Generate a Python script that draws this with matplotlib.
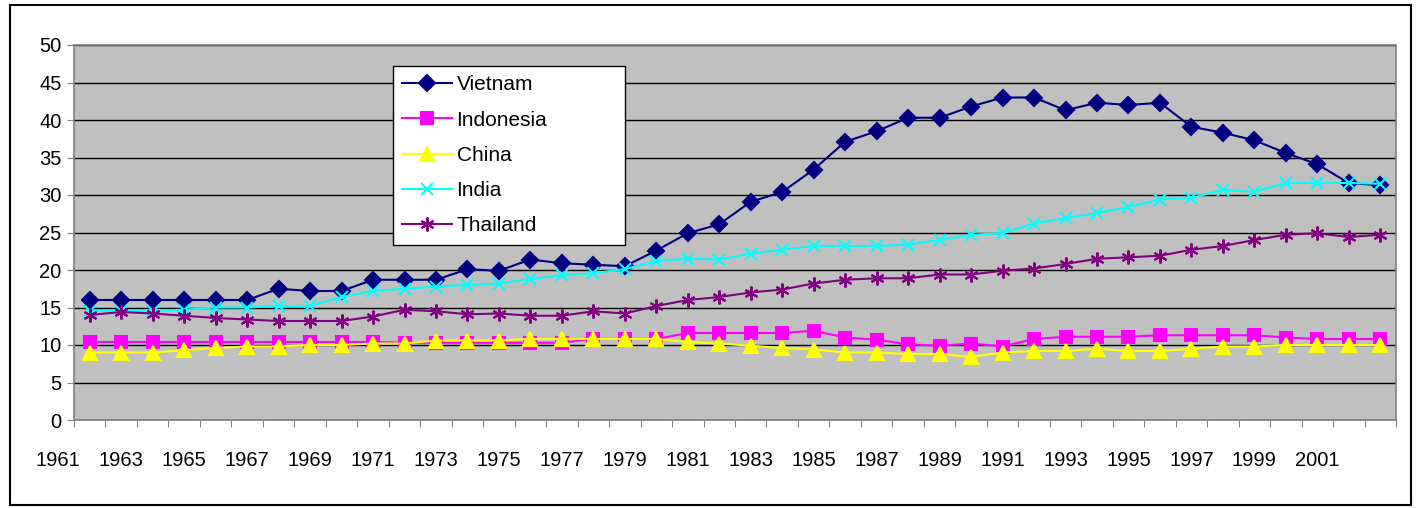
import matplotlib.pyplot as plt
from matplotlib.patches import Rectangle
from matplotlib.transforms import blended_transform_factory

plt.rcParams['font.family'] = ['Liberation Sans', 'DejaVu Sans']

# one value per year, 1962-2003
years = list(range(1962, 2004))
label_years = list(range(1961, 2002, 2))

vietnam = [16.0, 16.0, 16.0, 16.0, 16.0, 16.0, 17.5, 17.2, 17.2, 18.7,
           18.7, 18.7, 20.1, 19.9, 21.4, 20.9, 20.7, 20.5, 22.6, 24.9,
           26.1, 29.1, 30.4, 33.4, 37.1, 38.5, 40.3, 40.3, 41.8, 43.0,
           43.0, 41.3, 42.3, 42.0, 42.3, 39.1, 38.3, 37.3, 35.6, 34.1,
           31.6, 31.3]
indonesia = [10.4, 10.4, 10.4, 10.4, 10.4, 10.4, 10.4, 10.4, 10.4, 10.4,
             10.3, 10.3, 10.3, 10.3, 10.3, 10.3, 10.8, 10.8, 10.8, 11.6,
             11.6, 11.6, 11.6, 11.9, 11.0, 10.7, 10.1, 9.9, 10.2, 9.8,
             10.8, 11.1, 11.1, 11.1, 11.3, 11.3, 11.3, 11.3, 11.0, 10.8,
             10.8, 10.8]
china = [9.0, 9.0, 9.0, 9.3, 9.6, 9.8, 9.8, 10.0, 10.0, 10.2,
         10.2, 10.6, 10.6, 10.6, 10.8, 10.8, 10.8, 10.8, 10.8, 10.4,
         10.2, 9.9, 9.6, 9.4, 9.0, 9.0, 8.8, 8.8, 8.4, 9.0,
         9.2, 9.2, 9.5, 9.2, 9.2, 9.5, 9.8, 9.8, 10.0, 10.0,
         10.0, 10.0]
india = [14.5, 14.6, 14.6, 14.7, 15.0, 15.0, 15.2, 15.2, 16.4, 17.2,
         17.5, 17.8, 18.0, 18.2, 18.8, 19.3, 19.6, 20.1, 21.2, 21.5,
         21.4, 22.2, 22.7, 23.2, 23.2, 23.2, 23.4, 24.0, 24.7, 24.9,
         26.2, 26.9, 27.6, 28.4, 29.4, 29.6, 30.7, 30.4, 31.6, 31.6,
         31.6, 31.5]
thailand = [14.0, 14.4, 14.2, 13.9, 13.6, 13.4, 13.2, 13.2, 13.2, 13.8,
            14.7, 14.5, 14.1, 14.2, 13.9, 13.9, 14.5, 14.2, 15.2, 16.0,
            16.4, 17.0, 17.4, 18.2, 18.7, 18.9, 18.9, 19.4, 19.4, 19.9,
            20.2, 20.8, 21.5, 21.7, 21.9, 22.7, 23.2, 24.0, 24.7, 24.9,
            24.4, 24.7]

series = [
    ('Vietnam', vietnam, '#000080', 'D', 8),
    ('Indonesia', indonesia, '#FF00FF', 's', 8),
    ('China', china, '#FFFF00', '^', 10),
    ('India', india, '#00FFFF', 'x', 9),
    ('Thailand', thailand, '#800080', (6, 2, 0), 10),
]

fig = plt.figure(figsize=(14.18, 5.08), dpi=100)
W, H = 1418, 508
ax = fig.add_axes([74 / W, 1 - 420 / H, (1396 - 74) / W, (420 - 45) / H])
ax.set_facecolor('#C0C0C0')

for name, vals, color, marker, ms in series:
    ax.plot(years, vals, color=color, linewidth=1.5, marker=marker,
            markersize=ms, markerfacecolor=color, markeredgecolor=color,
            markeredgewidth=1.5, label=name)

ax.set_xlim(1961.5, 2003.5)
ax.set_ylim(0, 50)
ax.set_yticks(range(0, 51, 5))
ax.yaxis.grid(True, color='black', linewidth=1)
ax.set_axisbelow(True)
ax.tick_params(axis='y', labelsize=14.5, length=5, color='#808080', pad=4)

# category boundaries as ticks, labels drawn by hand (first one sits left of the axis)
ax.set_xticks([y + 0.5 for y in range(1961, 2004)])
ax.set_xticklabels([])
ax.tick_params(axis='x', length=5, color='#808080')
trans = blended_transform_factory(ax.transData, fig.transFigure)
for yr in label_years:
    ax.text(yr, 1 - 460 / H, str(yr), transform=trans, ha='center',
            va='center', fontsize=14.5, clip_on=False)

for side in ['left', 'right', 'top', 'bottom']:
    ax.spines[side].set_color('#808080')
    ax.spines[side].set_linewidth(1.2)

leg = ax.legend(loc='upper left', bbox_to_anchor=(0.2413, 0.0, 0.1755, 0.944),
                mode='expand', fontsize=15, frameon=True, fancybox=False,
                edgecolor='black', framealpha=1, borderpad=0.45,
                handlelength=2.4, handletextpad=0.2, labelspacing=0.78,
                borderaxespad=0)
leg.get_frame().set_linewidth(1)

# outer chart frame
fig.patches.append(Rectangle((10 / W, 1 - 505 / H), 1401 / W, 500 / H,
                             transform=fig.transFigure, fill=False,
                             edgecolor='black', linewidth=1.5))

fig.savefig('out.png', dpi=100)
